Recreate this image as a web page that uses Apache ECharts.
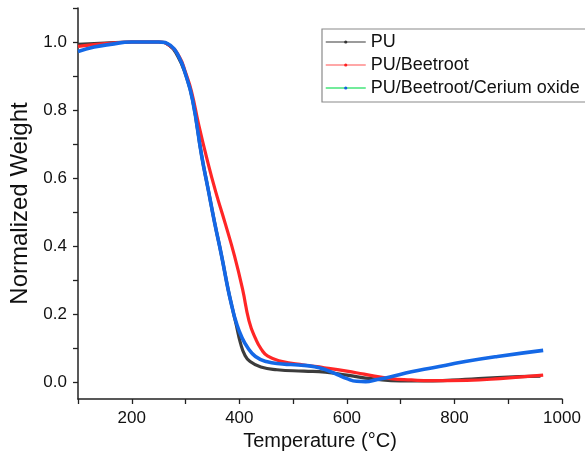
<!DOCTYPE html>
<html>
<head>
<meta charset="utf-8">
<script src="https://cdn.jsdelivr.net/npm/echarts@6/dist/echarts.min.js"></script>
<style>html,body{margin:0;padding:0;background:#fff}#c{width:585px;height:466px}</style>
</head>
<body>
<div id="c"></div>
<script>
const seriesNames = ['PU', 'PU/Beetroot', 'PU/Beetroot/Cerium oxide'];
const xLabelValues = [200, 400, 600, 800, 1000];
const yLabelValues = [0, 0.2, 0.4, 0.6, 0.8, 1.0];
const yTickValues = [0, 0.1, 0.2, 0.3, 0.4, 0.5, 0.6, 0.7, 0.8, 0.9, 1.0, 1.1];

const puData = [
  [100, 0.993], [150, 0.997], [200, 1.0], [250, 1.0], [270, 0.99], [285, 0.96], [300, 0.905],
  [313, 0.83], [330, 0.665], [342, 0.567], [354, 0.469], [367, 0.371], [379, 0.273], [386, 0.224],
  [394, 0.17], [402, 0.115], [410, 0.08], [420, 0.06], [440, 0.044], [470, 0.036], [520, 0.032],
  [560, 0.029], [600, 0.02], [650, 0.009], [700, 0.003], [760, 0.003], [820, 0.008], [880, 0.013], [960, 0.017]
];
const beetrootData = [
  [100, 0.987], [150, 0.995], [200, 1.0], [250, 1.0], [270, 0.99], [288, 0.958], [300, 0.91],
  [311, 0.855], [324, 0.76], [340, 0.655], [356, 0.56], [374, 0.465], [391, 0.371], [406, 0.273],
  [418, 0.18], [430, 0.128], [441, 0.096], [453, 0.076], [478, 0.061], [520, 0.05], [558, 0.042],
  [600, 0.032], [632, 0.023], [681, 0.01], [720, 0.006], [756, 0.004], [823, 0.005], [885, 0.01], [965, 0.02]
];
const ceriumData = [
  [100, 0.972], [130, 0.985], [160, 0.993], [200, 1.0], [250, 1.0], [272, 0.99], [288, 0.955],
  [300, 0.905], [313, 0.83], [330, 0.665], [342, 0.567], [354, 0.469], [367, 0.371], [379, 0.273],
  [386, 0.224], [394, 0.176], [405, 0.13], [416, 0.1], [430, 0.075], [450, 0.06], [480, 0.053],
  [510, 0.05], [540, 0.045], [562, 0.035], [582, 0.022], [600, 0.01], [618, 0.002], [635, 0.001],
  [655, 0.007], [680, 0.015], [720, 0.03], [760, 0.042], [820, 0.06], [880, 0.075], [965, 0.093]
];

const lineColors = ['#3c3c3c', '#ff2626', '#1468e6'];
const legendLineColors = ['#7a7a7a', '#ff8a8a', '#44e47a'];
const legendDotColors = ['#333333', '#ff2020', '#1060e0'];
const FONT = 'Liberation Sans, Arial, sans-serif';
const axisColor = '#222';

const chart = echarts.init(document.getElementById('c'), null, {renderer: 'canvas'});
chart.setOption({
  animation: false,
  backgroundColor: '#fff',
  grid: {left: 76, right: 23, top: 8, bottom: 67, containLabel: false},
  legend: {
    orient: 'vertical',
    left: 322, top: 29,
    padding: [4, 6, 5, 3],
    borderColor: '#8a8a8a', borderWidth: 1.2,
    itemWidth: 40, itemHeight: 4, itemGap: 5,
    textStyle: {fontFamily: FONT, fontSize: 18, color: '#111'},
    data: seriesNames.map((n, i) => ({
      name: n,
      itemStyle: {color: legendDotColors[i]},
      lineStyle: {color: legendLineColors[i], width: 1.5}
    }))
  },
  xAxis: {
    type: 'value', min: 100, max: 1000, interval: 100,
    axisLine: {show: true, onZero: false, lineStyle: {color: axisColor, width: 1.5}},
    axisTick: {show: true, length: 5, lineStyle: {color: axisColor, width: 1.3}},
    axisLabel: {margin: 11, fontFamily: FONT, fontSize: 17, color: '#111',
      showMinLabel: true, showMaxLabel: true,
      formatter: v => (xLabelValues.indexOf(v) >= 0 ? String(v) : '')},
    splitLine: {show: false},
    name: 'Temperature (°C)', nameLocation: 'middle', nameGap: 29,
    nameTextStyle: {fontFamily: FONT, fontSize: 20, color: '#111'}
  },
  yAxis: {
    type: 'value', min: -0.05, max: 1.1,
    axisLine: {show: true, onZero: false, lineStyle: {color: axisColor, width: 1.5}},
    axisTick: {show: true, length: 5, customValues: yTickValues, lineStyle: {color: axisColor, width: 1.3}},
    axisLabel: {customValues: yLabelValues, margin: 11, fontFamily: FONT, fontSize: 17, color: '#111',
      formatter: v => v.toFixed(1)},
    splitLine: {show: false},
    name: 'Normalized Weight', nameLocation: 'middle', nameGap: 46,
    nameTextStyle: {fontFamily: FONT, fontSize: 24, color: '#111'}
  },
  series: [
    {name: seriesNames[0], type: 'line', data: puData, smooth: 0.5, symbol: 'circle', showSymbol: false,
     lineStyle: {color: lineColors[0], width: 3.2}, itemStyle: {color: lineColors[0]}, z: 2},
    {name: seriesNames[1], type: 'line', data: beetrootData, smooth: 0.5, symbol: 'circle', showSymbol: false,
     lineStyle: {color: lineColors[1], width: 3.2}, itemStyle: {color: lineColors[1]}, z: 3},
    {name: seriesNames[2], type: 'line', data: ceriumData, smooth: 0.5, symbol: 'circle', showSymbol: false,
     lineStyle: {color: lineColors[2], width: 3.6}, itemStyle: {color: lineColors[2]}, z: 4}
  ]
});
</script>
</body>
</html>
